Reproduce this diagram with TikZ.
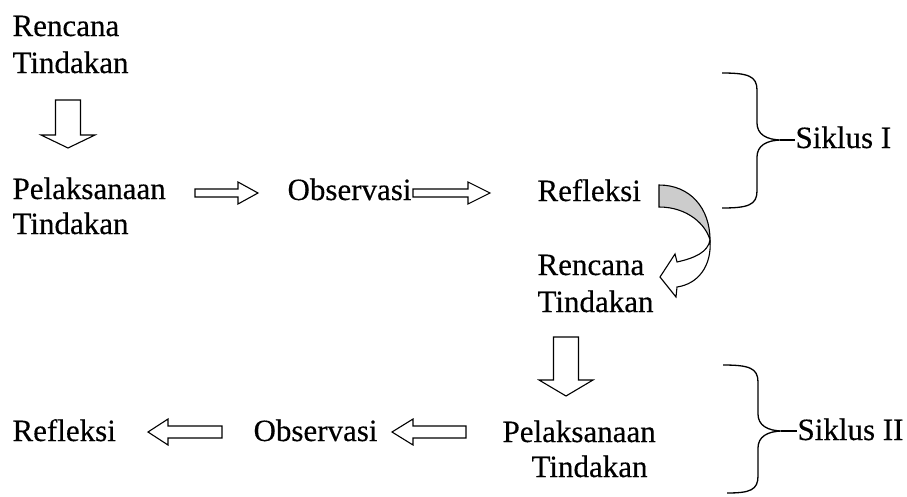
\documentclass[tikz,border=0pt]{standalone}
\usepackage{fontspec}
\setmainfont[FakeBold=0.35]{Liberation Serif}
\begin{document}
\begin{tikzpicture}[x=1pt,y=-1pt,
  line width=1.1pt,
  lbl/.style={inner sep=0pt, anchor=base west, font=\fontsize{31}{36}\selectfont},
  barrow/.style={draw=black, fill=white, line width=1.1pt, line join=miter},
  brace/.style={draw=black, line width=1.3pt}]
\useasboundingbox (0,0) rectangle (907,496);

% texts, first cycle
\node[lbl] (r1a) at (12,36) {Rencana};
\node[lbl] (r1b) at (12,73) {Tindakan};
\node[lbl] (p1a) at (12,199) {Pelaksanaan};
\node[lbl] (p1b) at (12,234) {Tindakan};
\node[lbl] (o1) at (287,200) {Observasi};
\node[lbl] (f1) at (537,201) {Refleksi};
\node[lbl] (r2a) at (537,275) {Rencana};
\node[lbl] (r2b) at (537,312) {Tindakan};
\node[lbl] (s1) at (795,148) {Siklus I};

% texts, second cycle
\node[lbl] (p2a) at (502,442) {Pelaksanaan};
\node[lbl] (p2b) at (531,477) {Tindakan};
\node[lbl] (o2) at (253,441) {Observasi};
\node[lbl] (f2) at (12,441) {Refleksi};
\node[lbl] (s2) at (797,440) {Siklus II};

% down block arrows
\draw[barrow] (55.5,100) -- (80.5,100) -- (80.5,135) -- (95,135) -- (68,148) -- (41,135) -- (55.5,135) -- cycle;
\draw[barrow] (553.5,337) -- (578.5,337) -- (578.5,380) -- (593,380) -- (566,396) -- (539,380) -- (553.5,380) -- cycle;

% right block arrows
\draw[barrow] (195,189) -- (238,189) -- (238,182) -- (258,193) -- (238,204) -- (238,197) -- (195,197) -- cycle;
\draw[barrow] (413,189) -- (468,189) -- (468,182) -- (490,193) -- (468,204) -- (468,197) -- (413,197) -- cycle;

% left block arrows
\draw[barrow] (222,426) -- (168,426) -- (168,419) -- (148,432) -- (168,445) -- (168,438) -- (222,438) -- cycle;
\draw[barrow] (466,426) -- (413,426) -- (413,419) -- (392,432) -- (413,445) -- (413,438) -- (466,438) -- cycle;

% curved arrow
\draw[fill=black!20, line width=1.1pt, line join=miter] (659,185) .. controls (690,185) and (710,208) .. (710,240)
   .. controls (706,225) and (688,207) .. (659,207) -- cycle;
\draw[barrow] (710,240) .. controls (712,266) and (698,284) .. (677,287) -- (676,297) -- (660,277) -- (675,254) -- (677,262)
   .. controls (695,258) and (708,252) .. (710,240);

% braces
\draw[brace] (722,73) .. controls (748,73) and (757,76) .. (757,90) -- (757,123)
   .. controls (757,134) and (766,140) .. (782,140)
   .. controls (766,140) and (757,146) .. (757,157) -- (757,191)
   .. controls (757,205) and (748,208) .. (722,208);
\draw[brace] (780,140) -- (795,140);

\draw[brace] (723,365) .. controls (749,365) and (758,368) .. (758,382) -- (758,414)
   .. controls (758,425) and (767,431) .. (783,431)
   .. controls (767,431) and (758,437) .. (758,448) -- (758,476)
   .. controls (758,490) and (750,493) .. (727,493);
\draw[brace] (781,431) -- (797,431);
\end{tikzpicture}
\end{document}
